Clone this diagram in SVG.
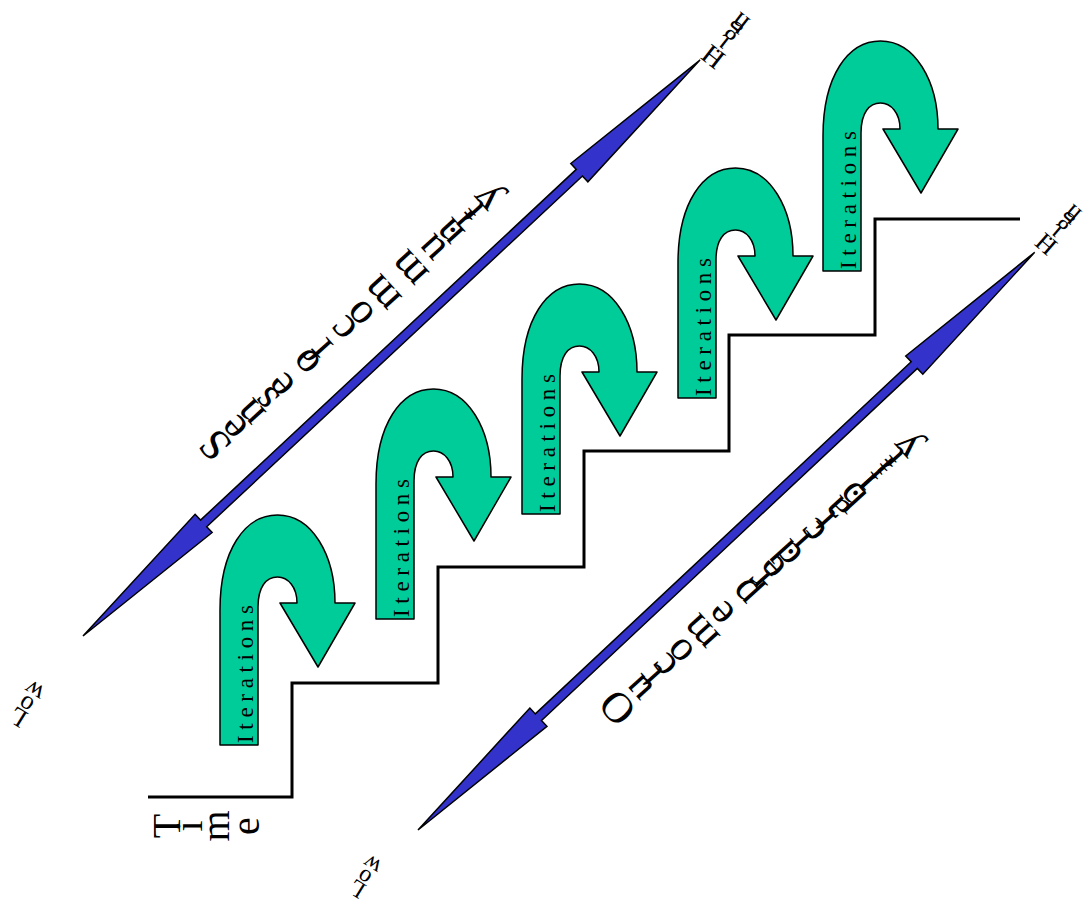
<svg xmlns="http://www.w3.org/2000/svg" width="1087" height="907" viewBox="0 0 1087 907">
<style>
.lbl{font-family:"Liberation Serif","Times New Roman",serif;fill:#000;}
.g{text-anchor:middle;dominant-baseline:central;}
.turn{fill:#00CC99;stroke:#000;stroke-width:1.5;stroke-linejoin:round;}
.dbl{fill:#3333CC;stroke:#000;stroke-width:1.5;stroke-linejoin:miter;}
.stairs{fill:none;stroke:#000;stroke-width:3;}
</style>
<defs>
<path id="uturn" class="turn" d="M0,230 L0,95 C0,35 25,0 57.5,0 C92,0 115,40 115,88 L135,88 L98,152 L60,88 L77,88 C77,72 68,62 57.5,62 C46,62 38,72 38,92 L38,230 Z"/>
</defs>
<rect width="1087" height="907" fill="#fff"/>
<g id="connectors">
<polyline class="stairs" points="148,797 292,797 292,683 438,683 438,567 584,567 584,451 729,451 729,335 875,335 875,219 1020,219"/>
<g transform="translate(83,636) rotate(-43.03)">
<polygon class="dbl" points="0,0 165,-12.5 165,-4.5 679,-4.5 679,-12.5 844,0 679,12.5 679,4.5 165,4.5 165,12.5"/>
</g>
<g transform="translate(418,830) rotate(-43.13)">
<polygon class="dbl" points="0,0 165,-12.5 165,-4.5 680,-4.5 680,-12.5 845,0 680,12.5 680,4.5 165,4.5 165,12.5"/>
</g>
</g>
<g id="iter1"><use href="#uturn" x="220" y="515"/><text class="lbl" font-size="23" transform="translate(253,743) rotate(-90)" textLength="138" lengthAdjust="spacing">Iterations</text></g>
<g id="iter2"><use href="#uturn" x="376" y="389"/><text class="lbl" font-size="23" transform="translate(409,617) rotate(-90)" textLength="138" lengthAdjust="spacing">Iterations</text></g>
<g id="iter3"><use href="#uturn" x="522" y="284"/><text class="lbl" font-size="23" transform="translate(555,512) rotate(-90)" textLength="138" lengthAdjust="spacing">Iterations</text></g>
<g id="iter4"><use href="#uturn" x="678" y="168"/><text class="lbl" font-size="23" transform="translate(711,396) rotate(-90)" textLength="138" lengthAdjust="spacing">Iterations</text></g>
<g id="iter5"><use href="#uturn" x="823" y="41"/><text class="lbl" font-size="23" transform="translate(856,269) rotate(-90)" textLength="138" lengthAdjust="spacing">Iterations</text></g>
<g id="time"><text class="lbl g" font-size="40" transform="translate(166,826) rotate(-90)" x="0 0 0 0" y="0 22 49 79">Time</text></g>
<g id="upper-label"><text class="lbl g" font-size="44" transform="translate(215,445) rotate(-132.2)" x="0 0 0 0 0 0 0 0 0 0 0 0 0 0 0 0 0 0" y="0 23.7 46.1 67.1 86.9 103.3 121.1 140.9 154.7 171.1 193.5 223.8 260.7 290.9 314.6 333.1 346.3 364.7">Sense of community</text></g>
<g id="lower-label"><text class="lbl g" font-size="43" transform="translate(617,708) rotate(-132.1)" x="0 0 0 0 0 0 0 0 0 0 0 0 0 0 0 0 0 0 0 0 0 0" y="0 27.4 44.9 61.1 82.3 111 138.4 154 170.8 189.5 207 228.2 245.6 261.9 278.1 294.3 315.5 332.9 345.4 357.9 370.4 387.8">Outcome predictability</text></g>
<g id="low1"><text class="lbl g" font-size="26" transform="translate(18,717) rotate(-148)" x="0 0 0" y="0 14.4 30.3">Low</text></g>
<g id="low2"><text class="lbl g" font-size="24" transform="translate(357,889) rotate(-148)" x="0 0 0" y="0 13.3 28">Low</text></g>
<g id="high1"><text class="lbl g" font-size="28" transform="translate(713,57) rotate(-142)" x="0 0 0 0" y="0 15.5 27.6 43.1">High</text></g>
<g id="high2"><text class="lbl g" font-size="26" transform="translate(1046,244) rotate(-139)" x="0 0 0 0" y="0 14.4 25.6 40">High</text></g>
</svg>
